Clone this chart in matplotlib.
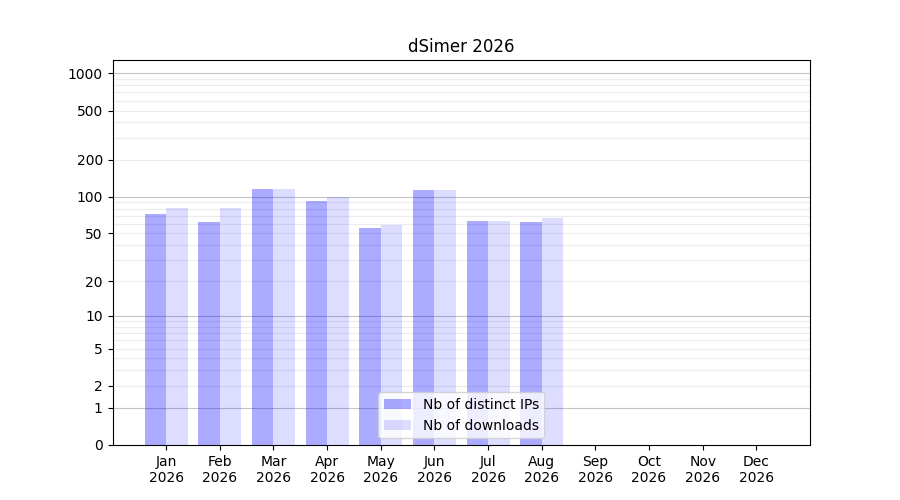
import numpy as np
import matplotlib
matplotlib.use('Agg')
import matplotlib.pyplot as plt

months = ['Jan', 'Feb', 'Mar', 'Apr', 'May', 'Jun', 'Jul', 'Aug', 'Sep', 'Oct', 'Nov', 'Dec']
year = 2026
distinct_ips = [72, 62, 115, 92, 55, 113, 63, 62, 0, 0, 0, 0]
downloads = [81, 81, 115, 99, 59, 113, 63, 67, 0, 0, 0, 0]
ytick_values = [0, 1, 2, 5, 10, 20, 50, 100, 200, 500, 1000]

def forward(v):
    return np.log10(1 + np.maximum(v, 0))

def inverse(v):
    return 10 ** v - 1

fig, ax = plt.subplots(figsize=(9, 5), dpi=100)
ax.set_yscale('function', functions=(forward, inverse))

x = np.arange(len(months))
width = 0.4

# grid lines: decades darker, the steps in between lighter
for decade in [1, 10, 100, 1000]:
    ax.axhline(decade, color='#c4c4c4', linewidth=0.8, zorder=0)
    for k in range(2, 10):
        ax.axhline(decade * k, color='#ececec', linewidth=0.8, zorder=0)

ax.bar(x - width / 2, distinct_ips, width, color='blue', alpha=0.33, label='Nb of distinct IPs', zorder=2)
ax.bar(x + width / 2, downloads, width, color='blue', alpha=0.135, label='Nb of downloads', zorder=2)

ax.set_xlim(-1, len(months))
ax.set_ylim(0, 1280)
ax.set_xticks(x)
ax.set_xticklabels([f'{m}\n{year}' for m in months])
ax.set_yticks(ytick_values)
ax.set_yticklabels([str(v) for v in ytick_values])
ax.yaxis.set_minor_locator(matplotlib.ticker.NullLocator())

ax.set_title(f'dSimer {year}')
ax.legend(loc='lower center')

fig.savefig('out.png')
